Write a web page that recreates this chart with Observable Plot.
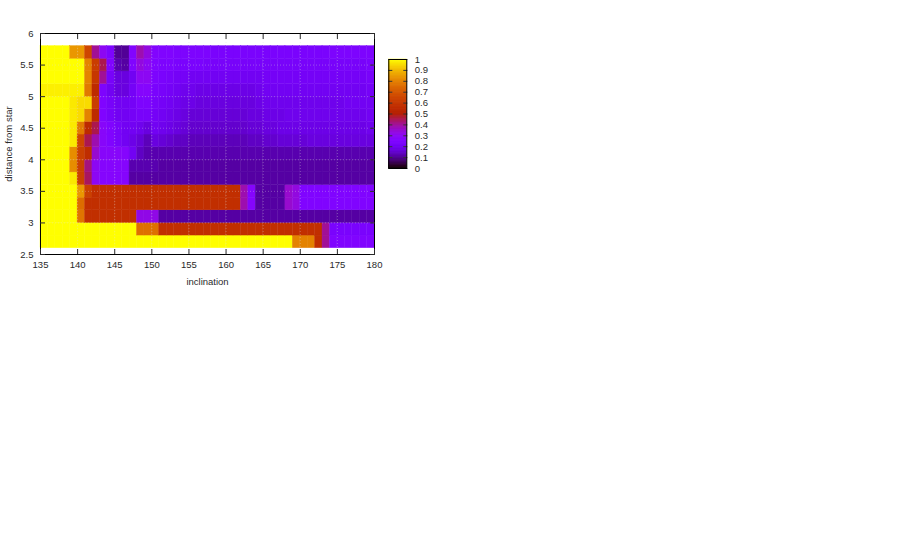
<!DOCTYPE html>
<html><head><meta charset="utf-8">
<script src="https://cdn.jsdelivr.net/npm/d3@7"></script>
<script src="https://cdn.jsdelivr.net/npm/@observablehq/plot@0.6"></script>
<style>
html,body{margin:0;padding:0;background:#fff;}
#wrap{position:relative;width:902px;height:550px;overflow:hidden;}
#cbar{position:absolute;left:388px;top:49px;}
</style></head><body><div id="wrap"><div id="cbar"></div></div>
<script>
// grid: left edge of each 1-degree inclination column, lower edge of each 0.2 distance row
const inclinations = d3.range(135, 180);
const distances = [2.6, 2.8, 3.0, 3.2, 3.4, 3.6, 3.8, 4.0, 4.2, 4.4, 4.6, 4.8, 5.0, 5.2, 5.4, 5.6];

// values per row (45 columns, 135..179)
const row_2_6 = [1,1,1,1,1,1,1,1,1,1, 1,1,1,1,1,1,1,1,1,1, 1,1,1,1,1,1,1,1,1,1, 1,1,1,1, 0.8,0.8,0.8, 0.57, 0.4, 0.25,0.25,0.25,0.25,0.25,0.25];
const row_2_8 = [1,1,1,1,1,1,1,1,1,1, 1,1,1, 0.76,0.76,0.76, 0.57,0.57,0.57,0.57,0.57,0.57,0.57,0.57,0.57,0.57,0.57,0.57,0.57,0.57,0.57,0.57,0.57,0.57,0.57,0.57,0.57,0.57, 0.4, 0.23,0.23,0.23,0.23,0.23,0.23];
const row_3_0 = [1,1,1,1,1, 0.77, 0.57,0.57,0.57,0.57,0.57,0.57,0.57, 0.32,0.32,0.32, 0.11,0.11,0.11,0.11,0.11,0.11,0.11,0.11,0.11,0.11,0.11,0.11,0.11,0.11,0.11,0.11,0.11,0.11,0.11,0.11,0.11,0.11,0.11,0.11,0.11,0.11,0.11,0.11,0.11];
const row_3_2 = [1,1,1,1,1, 0.75, 0.57,0.57,0.57,0.57,0.57,0.57,0.57,0.57,0.57,0.57,0.57,0.57,0.57,0.57,0.57,0.57,0.57,0.57,0.57,0.57,0.57, 0.38, 0.27, 0.11,0.11,0.11,0.11, 0.35, 0.33, 0.25,0.25,0.25,0.25,0.25,0.25,0.25,0.25,0.25,0.25];
const row_3_4 = [1,1,1,1,1, 0.84, 0.63, 0.57,0.57,0.57,0.57,0.57,0.57,0.57,0.57,0.57,0.57,0.57,0.57,0.57,0.57,0.57,0.57,0.57,0.57,0.57,0.57, 0.38, 0.27, 0.11,0.11,0.11,0.11, 0.35, 0.33, 0.25,0.25,0.25,0.25,0.25,0.25,0.25,0.25,0.25,0.25];
const row_3_6 = [1,1,1,1,0.97, 0.63, 0.44, 0.3, 0.27,0.27,0.27,0.27, 0.11,0.11,0.11,0.11,0.11,0.11,0.11,0.11,0.11,0.11,0.11,0.11,0.11,0.11,0.11,0.11,0.11,0.11,0.11,0.11,0.11,0.11,0.11,0.11,0.11,0.11,0.11,0.11,0.11,0.11,0.11,0.11,0.11];
const row_3_8 = [1,1,1,1,0.82, 0.63, 0.42, 0.3, 0.27,0.27,0.27,0.27, 0.12,0.12,0.12,0.12,0.11,0.11,0.11,0.11,0.11,0.11,0.11,0.11,0.11,0.11,0.11,0.11,0.11,0.11,0.11,0.11,0.11,0.11,0.11,0.11,0.11,0.11,0.11,0.11,0.11,0.11,0.11,0.11,0.11];
const row_4_0 = [1,1,1,1,0.82, 0.63, 0.56, 0.35, 0.28,0.28,0.28,0.27, 0.2, 0.14, 0.12,0.12,0.12,0.12,0.12,0.12,0.12,0.12,0.12,0.12,0.12,0.12,0.12,0.12,0.12,0.12,0.12,0.12,0.12,0.12,0.12,0.12,0.12,0.12,0.12,0.12,0.12,0.12,0.12,0.12,0.12];
const row_4_2 = [1,1,1,1,0.97,0.65,0.45,0.38,0.28,0.25,0.22,0.2,0.18,0.16,0.13, 0.17,0.16,0.15,0.14,0.14,0.13,0.13,0.13,0.13,0.13,0.13,0.13,0.13,0.14,0.14, 0.15,0.15,0.16,0.16,0.16,0.16,0.17,0.17,0.17,0.17,0.17,0.17,0.17,0.17,0.17];
const row_4_4 = [1,1,1,1,0.97,0.78,0.55,0.45,0.28,0.25,0.22,0.2,0.2,0.19,0.17, 0.2,0.19,0.18,0.17,0.16,0.15,0.15,0.15,0.15,0.15,0.15,0.15,0.15,0.16,0.16, 0.17,0.17,0.18,0.18,0.18,0.18,0.18,0.18,0.18,0.18,0.18,0.18,0.18,0.18,0.19];
const row_4_6 = [1,1,1,1,0.97,0.95,0.8,0.55,0.25,0.22,0.2,0.2,0.21,0.22,0.22, 0.21,0.2,0.19,0.18,0.17,0.16,0.16,0.16,0.16,0.16,0.16,0.16,0.16,0.17,0.17, 0.18,0.18,0.18,0.19,0.19,0.19,0.19,0.19,0.19,0.19,0.19,0.19,0.19,0.19,0.2];
const row_4_8 = [1,1,1,1,0.97,0.95,0.95,0.62,0.25,0.22,0.2,0.2,0.21,0.24,0.24, 0.22,0.21,0.2,0.19,0.18,0.18,0.17,0.17,0.17,0.17,0.17,0.17,0.17,0.17,0.18, 0.19,0.19,0.19,0.19,0.19,0.19,0.19,0.19,0.19,0.19,0.19,0.2,0.2,0.2,0.2];
const row_5_0 = [0.98,0.98,0.98,0.98,0.98,0.98,0.78,0.55,0.24,0.2,0.17,0.17,0.21,0.27,0.27, 0.23,0.22,0.21,0.2,0.19,0.19,0.18,0.18,0.18,0.18,0.18,0.18,0.18,0.18,0.19, 0.2,0.2,0.2,0.2,0.2,0.2,0.2,0.2,0.2,0.2,0.2,0.2,0.2,0.2,0.21];
const row_5_2 = [1,1,1,1,1,1,0.8,0.6,0.4,0.22,0.17,0.17,0.2,0.3,0.3, 0.24,0.23,0.22,0.21,0.21,0.2,0.2,0.2,0.2,0.2,0.2,0.2,0.2,0.2,0.2, 0.21,0.21,0.21,0.21,0.21,0.21,0.21,0.21,0.21,0.21,0.21,0.21,0.21,0.21,0.22];
const row_5_4 = [1,1,1,1,1,1,0.8,0.62,0.45,0.25,0.12,0.11,0.25,0.33,0.3, 0.25,0.24,0.24,0.23,0.23,0.23,0.23,0.22,0.22,0.22,0.22,0.22,0.22,0.22,0.22, 0.22,0.22,0.22,0.22,0.22,0.22,0.22,0.22,0.22,0.22,0.22,0.22,0.22,0.22,0.23];
const row_5_6 = [1,1,1,1,0.84,0.84,0.65,0.4,0.3,0.24,0.1,0.1,0.26,0.38,0.33, 0.26,0.25,0.25,0.24,0.24,0.24,0.24,0.24,0.23,0.23,0.23,0.23,0.23,0.23,0.23, 0.23,0.23,0.23,0.23,0.23,0.23,0.23,0.23,0.23,0.24,0.24,0.24,0.24,0.24,0.24];

const xTicks = [135, 140, 145, 150, 155, 160, 165, 170, 175, 180];
const yTicks = [2.5, 3, 3.5, 4, 4.5, 5, 5.5, 6];
const cbTicks = [0, 0.1, 0.2, 0.3, 0.4, 0.5, 0.6, 0.7, 0.8, 0.9, 1];

const rows = [row_2_6, row_2_8, row_3_0, row_3_2, row_3_4, row_3_6, row_3_8, row_4_0, row_4_2, row_4_4, row_4_6, row_4_8, row_5_0, row_5_2, row_5_4, row_5_6];
const cells = [];
distances.forEach((d, i) => rows[i].forEach((v, j) => cells.push({x1: inclinations[j], x2: inclinations[j] + 1, y1: d, y2: d + 0.2, v})));

// gnuplot default pm3d palette (rgbformulae 7,5,15)
const gp = t => {
  const r = Math.sqrt(t), g = t * t * t, b = Math.max(0, Math.sin(2 * Math.PI * t));
  return `rgb(${Math.round(r * 255)},${Math.round(g * 255)},${Math.round(b * 255)})`;
};
const colorScale = {type: "linear", domain: [0, 1], interpolate: () => gp};
const font = {fontFamily: '"Liberation Sans", Arial, sans-serif', fontSize: "9.5px", color: "#2a2a2a", background: "transparent"};
const blank = () => "";
const num = d => `${d}`;

const chart = Plot.plot({
  width: 902, height: 550,
  marginLeft: 40, marginRight: 528, marginTop: 33, marginBottom: 296,
  style: font,
  x: {domain: [135, 180]},
  y: {domain: [2.5, 6]},
  color: colorScale,
  marks: [
    Plot.rect(cells, {x1: "x1", x2: "x2", y1: "y1", y2: "y2", fill: "v", stroke: "v", strokeWidth: 0.4}),
    Plot.gridX(xTicks, {stroke: "#ddd", strokeOpacity: 0.35, strokeDasharray: "1,2"}),
    Plot.gridY(yTicks, {stroke: "#ddd", strokeOpacity: 0.35, strokeDasharray: "1,2"}),
    Plot.frame({stroke: "#000"}),
    Plot.axisX(xTicks, {tickSize: 0, tickPadding: 7, tickFormat: num, label: null}),
    Plot.axisX(xTicks, {tickSize: -5, tickFormat: blank, label: null}),
    Plot.axisX(xTicks, {anchor: "top", tickSize: -5, tickFormat: blank, label: null}),
    Plot.axisY(yTicks, {tickSize: 0, tickPadding: 7, tickFormat: num, label: null}),
    Plot.axisY(yTicks, {tickSize: -5, tickFormat: blank, label: null}),
    Plot.axisY(yTicks, {anchor: "right", tickSize: -5, tickFormat: blank, label: null}),
    Plot.text(["inclination"], {frameAnchor: "bottom", dy: 27, lineAnchor: "middle", textAnchor: "middle", text: d => d, fill: "#2a2a2a"}),
    Plot.text(["distance from star"], {frameAnchor: "left", dx: -32, rotate: -90, lineAnchor: "middle", textAnchor: "middle", text: d => d, fill: "#2a2a2a"})
  ]
});
document.getElementById("wrap").prepend(chart);

const cbSteps = d3.range(0, 1, 0.004);
const cbar = Plot.plot({
  width: 60, height: 129,
  marginLeft: 0.3, marginRight: 41.7, marginTop: 10, marginBottom: 10,
  style: font,
  x: {domain: [0, 1], axis: null},
  y: {domain: [0, 1]},
  color: colorScale,
  marks: [
    Plot.rect(cbSteps, {x1: 0, x2: 1, y1: d => d, y2: d => d + 0.004, fill: d => d, stroke: d => d, strokeWidth: 0.5}),
    Plot.axisY(cbTicks, {anchor: "left", tickSize: -4, tickFormat: blank, label: null, stroke: "#333"}),
    Plot.axisY(cbTicks, {anchor: "right", tickSize: -4, tickFormat: blank, label: null, stroke: "#333"}),
    Plot.axisY(cbTicks, {anchor: "right", tickSize: 0, tickPadding: 8, tickFormat: num, label: null}),
    Plot.frame({stroke: "#000"})
  ]
});
document.getElementById("cbar").append(cbar);
</script>
</body></html>
